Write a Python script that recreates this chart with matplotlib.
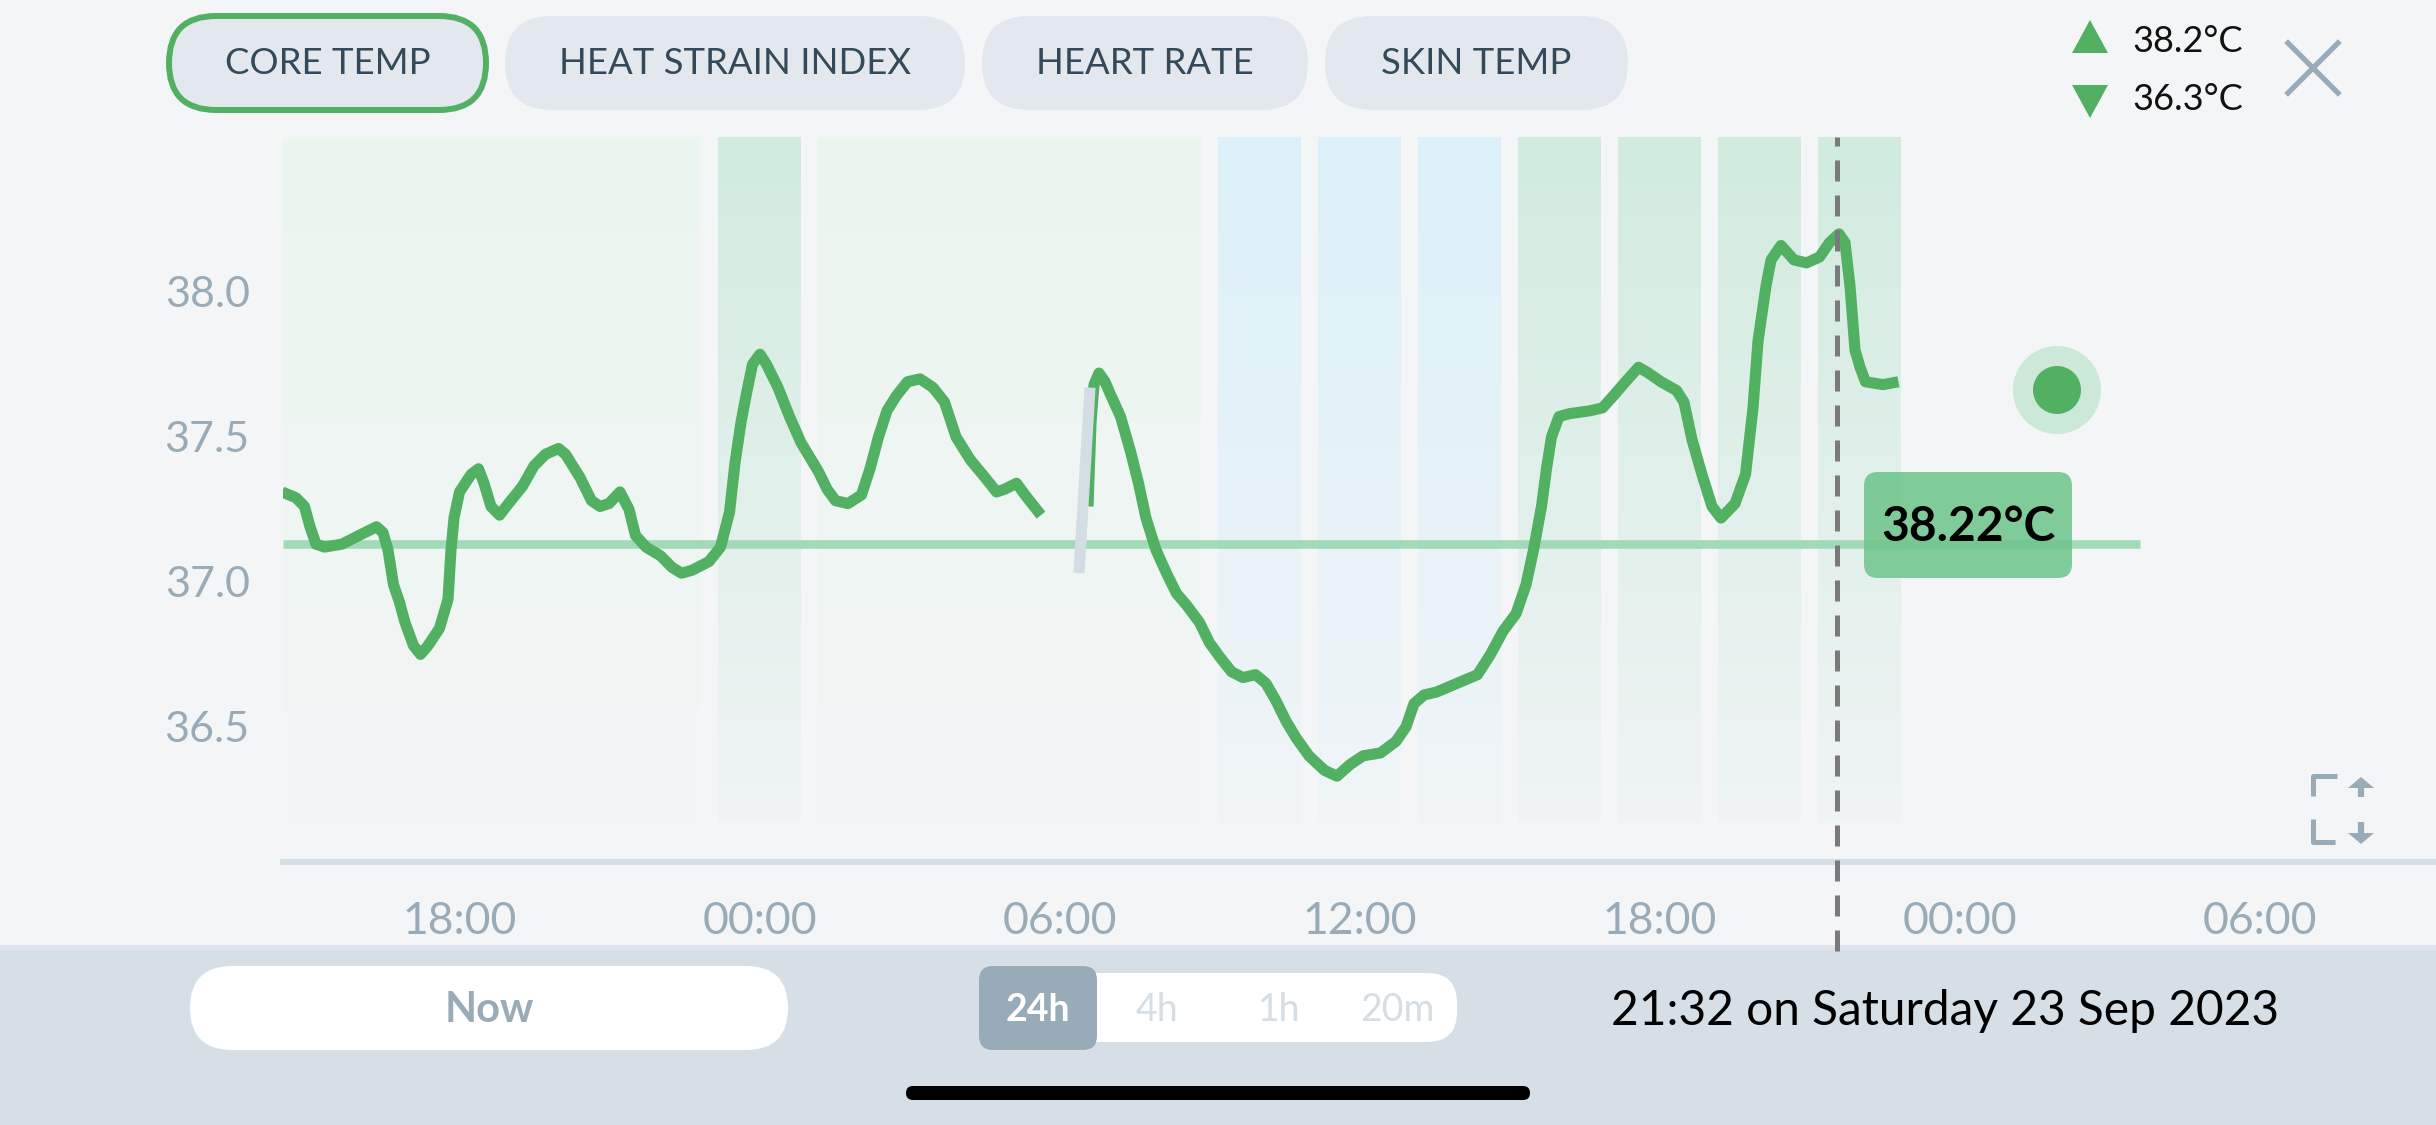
import matplotlib; matplotlib.use("Agg")
import matplotlib.pyplot as plt
import numpy as np
from matplotlib.patches import FancyBboxPatch, Polygon, Circle

plt.rcParams.update({"font.family": ["Lato", "DejaVu Sans"]})

# core temperature trace (hours since Friday 00:00, degC)
hours_1 = [14.44, 14.72, 14.89, 15.0, 15.12, 15.29, 15.64, 15.98, 16.33, 16.46, 16.56, 16.67,
           16.79, 16.9, 17.07, 17.21, 17.36, 17.59, 17.76, 17.82, 17.88, 17.99, 18.22, 18.37,
           18.48, 18.62, 18.79, 18.97, 19.25, 19.48, 19.71, 19.97, 20.11, 20.4, 20.63, 20.8,
           20.98, 21.2, 21.38, 21.51, 21.72, 22.01, 22.24, 22.43, 22.64, 22.98, 23.21, 23.39,
           23.5, 23.62, 23.73, 23.85, 24.0, 24.13, 24.36, 24.59, 24.82, 25.17, 25.34, 25.51,
           25.76, 26.03, 26.2, 26.37, 26.54, 26.72, 26.95, 27.2, 27.46, 27.69, 27.92, 28.21,
           28.5, 28.73, 28.9, 29.13, 29.3, 29.62]
temp_1 = [37.31, 37.29, 37.26, 37.19, 37.13, 37.12, 37.13, 37.16, 37.19, 37.17, 37.11, 36.99,
          36.93, 36.86, 36.78, 36.75, 36.78, 36.84, 36.94, 37.11, 37.22, 37.31, 37.37, 37.39,
          37.34, 37.26, 37.23, 37.27, 37.33, 37.40, 37.44, 37.46, 37.44, 37.36, 37.28, 37.26,
          37.27, 37.31, 37.25, 37.16, 37.12, 37.09, 37.05, 37.03, 37.04, 37.07, 37.12, 37.24,
          37.41, 37.55, 37.65, 37.75, 37.785, 37.75, 37.67, 37.57, 37.48, 37.38, 37.32, 37.28,
          37.27, 37.30, 37.39, 37.50, 37.59, 37.64, 37.69, 37.70, 37.67, 37.62, 37.50, 37.42,
          37.36, 37.31, 37.32, 37.34, 37.30, 37.23]
hours_2 = [30.56, 30.62, 30.68, 30.78, 30.9, 31.0, 31.21, 31.41, 31.57, 31.72, 31.92, 32.13,
           32.33, 32.53, 32.79,
           32.99, 33.2, 33.43, 33.66, 33.91, 34.12, 34.32, 34.52, 34.73, 34.98, 35.29, 35.54,
           35.8, 36.06, 36.41, 36.72, 36.92, 37.08, 37.28, 37.53, 37.94, 38.35, 38.61, 38.86,
           39.12, 39.32, 39.47, 39.63, 39.73, 39.83, 39.98, 40.19, 40.6, 40.85, 41.06, 41.31,
           41.57, 41.77, 42.02, 42.33, 42.48, 42.64, 42.84, 43.04, 43.22, 43.5, 43.71, 43.86,
           43.96, 44.12, 44.22, 44.42, 44.68, 44.93, 45.19, 45.39, 45.58, 45.7, 45.8, 45.9,
           46.0, 46.11, 46.46, 46.77]
temp_2 = [37.26, 37.55, 37.68, 37.72, 37.69, 37.65, 37.57, 37.45, 37.34, 37.22, 37.11, 37.03,
          36.96, 36.92, 36.86,
          36.79, 36.74, 36.69, 36.67, 36.68, 36.65, 36.59, 36.52, 36.46, 36.40, 36.35, 36.33,
          36.37, 36.40, 36.41, 36.45, 36.50, 36.58, 36.61, 36.62, 36.65, 36.68, 36.75, 36.83,
          36.89, 36.99, 37.11, 37.26, 37.39, 37.50, 37.57, 37.58, 37.59, 37.60, 37.64, 37.69,
          37.74, 37.72, 37.69, 37.66, 37.62, 37.49, 37.37, 37.26, 37.22, 37.27, 37.37, 37.60,
          37.83, 38.02, 38.11, 38.16, 38.11, 38.10, 38.12, 38.17, 38.20, 38.17, 38.02, 37.80,
          37.74, 37.69, 37.68, 37.69]
gap_hours = [30.38, 30.6]
gap_temp = [37.03, 37.67]

# background zones (2 h blocks)
band_start = [13, 23, 25, 33, 35, 37, 39, 41, 43, 45]
band_end = [23, 25, 33, 35, 37, 39, 41, 43, 45, 47]
band_kind = ["faint", "green", "faint", "blue", "blue", "blue", "green", "green", "green", "green"]
band_rgb = {"faint": (0.925, 0.965, 0.94), "green": (0.82, 0.925, 0.875), "blue": (0.86, 0.945, 0.98)}

baseline = 37.13
cursor_hour = 45.53
cursor_label = "38.22°C"
y_ticks = [36.5, 37.0, 37.5, 38.0]
x_ticks = [18, 24, 30, 36, 42, 48, 54]
x_labels = ["18:00", "00:00", "06:00", "12:00", "18:00", "00:00", "06:00"]
tabs = ["CORE TEMP", "HEAT STRAIN INDEX", "HEART RATE", "SKIN TEMP"]
tab_x = [(169, 486), (505, 965), (982, 1308), (1325, 1628)]
ranges = ["24h", "4h", "1h", "20m"]
range_x = [1038, 1157, 1279, 1397]

BG = "#f3f5f7"
GREEN = "#52b062"
GREY = "#9aabb8"
W, H = 2436, 1125

fig = plt.figure(figsize=(W / 100, H / 100), dpi=100, facecolor=BG)
ui = fig.add_axes([0, 0, 1, 1], zorder=0)
ui.set_xlim(0, W); ui.set_ylim(H, 0); ui.axis("off")
top = fig.add_axes([0, 0, 1, 1], zorder=3)
top.set_xlim(0, W); top.set_ylim(H, 0); top.axis("off"); top.patch.set_alpha(0)

# chart
ax = fig.add_axes([283 / W, (H - 862) / H, (W - 283) / W, (862 - 137) / H], zorder=1)
ax.patch.set_alpha(0)
y0, y1 = 36.034, 38.534
for s, e, k in zip(band_start, band_end, band_kind):
    grad = np.zeros((100, 1, 4))
    grad[:, 0, :3] = band_rgb[k]
    grad[:, 0, 3] = np.linspace(1, 0.1, 100)
    ax.imshow(grad, extent=[s + 0.15, e - 0.2, 36.17, y1], aspect="auto",
              interpolation="bilinear", zorder=0)
ax.axhline(y0, color="#d3dee5", lw=4.5, clip_on=False, zorder=1)
ax.plot([14.46, 51.6], [baseline, baseline], color="#a2dab8", lw=6.2, zorder=2,
        solid_capstyle="butt")
for hx, ty in [(hours_1, temp_1), (hours_2, temp_2)]:
    ax.plot(hx, ty, color=GREEN, lw=8, zorder=4, solid_joinstyle="round",
            solid_capstyle="butt")
ax.plot(gap_hours, gap_temp, color="#d3dde4", lw=8, zorder=5, solid_capstyle="butt")
ax.axvline(cursor_hour, ymin=-0.1228, ymax=1, color="#7a7a7a", lw=3.6,
           ls=(0, (4.2, 2.8)), clip_on=False, zorder=6)
ax.set_xlim(14.46, 57.52); ax.set_ylim(y0, y1)
for sp in ax.spines.values():
    sp.set_visible(False)
ax.set_yticks(y_ticks); ax.set_yticklabels([f"{v:.1f}" for v in y_ticks])
ax.set_xticks(x_ticks); ax.set_xticklabels(x_labels)
ax.tick_params(length=0, colors=GREY, labelsize=31)
ax.tick_params(axis="x", labelsize=32)
ax.tick_params(axis="y", pad=24)
ax.tick_params(axis="x", pad=28)

# value label box and live dot
top.add_patch(FancyBboxPatch((1864, 472), 208, 106, boxstyle="round,pad=0,rounding_size=14",
                             fc="#6cc48a", ec="none", alpha=0.85))
top.text(1968, 527, cursor_label, fontsize=34.5, fontweight="bold", ha="center", va="center",
         color="#000000")
top.add_patch(Circle((2057, 390), 44, fc="#cce8d8", ec="none"))
top.add_patch(Circle((2057, 390), 24, fc=GREEN, ec="none"))

# top tabs
for i, (lab, (xa, xb)) in enumerate(zip(tabs, tab_x)):
    ui.add_patch(FancyBboxPatch((xa, 16), xb - xa, 94, boxstyle="round,pad=0,rounding_size=47",
                                fc="#e3e8ee", ec=GREEN if i == 0 else "none", lw=4.3))
    ui.text((xa + xb) / 2, 64, lab, fontsize=26.3, ha="center", va="center", color="#34495a")

# min/max legend + close
top.add_patch(Polygon([[2072, 53], [2108, 53], [2090, 20]], fc=GREEN, ec="none"))
top.add_patch(Polygon([[2072, 85], [2108, 85], [2090, 118]], fc=GREEN, ec="none"))
top.text(2132, 41, "38.2°C", fontsize=26, va="center", ha="left", color="#111111")
top.text(2132, 99, "36.3°C", fontsize=26, va="center", ha="left", color="#111111")
top.plot([2288, 2338], [43, 93], color=GREY, lw=3.8)
top.plot([2288, 2338], [93, 43], color=GREY, lw=3.8)

# expand icon
top.plot([2313, 2313, 2337], [796, 776, 776], color=GREY, lw=3.6, solid_capstyle="butt")
top.plot([2313, 2313, 2335], [819, 842, 842], color=GREY, lw=3.6, solid_capstyle="butt")
top.add_patch(Polygon([[2348, 788], [2374, 788], [2361, 777]], fc=GREY, ec="none"))
top.add_patch(Polygon([[2348, 833], [2374, 833], [2361, 844]], fc=GREY, ec="none"))
top.plot([2361, 2361], [786, 797], color=GREY, lw=4.5, solid_capstyle="butt")
top.plot([2361, 2361], [822, 835], color=GREY, lw=4.5, solid_capstyle="butt")

# bottom bar
ui.add_patch(plt.Rectangle((0, 951), W, H - 951, fc="#d5dfe5", ec="none", zorder=2))
for k in range(6):
    ui.add_patch(plt.Rectangle((0, 945 + k), W, 1, fc="#dfe5ea", ec="none", zorder=2))
ui.add_patch(FancyBboxPatch((190, 966), 598, 84, boxstyle="round,pad=0,rounding_size=42",
                            fc="white", ec="none", zorder=3))
ui.text(489, 1010, "Now", fontsize=30, fontweight="bold", ha="center", va="center",
        color=GREY, zorder=4)
ui.add_patch(FancyBboxPatch((979, 973), 478, 69, boxstyle="round,pad=0,rounding_size=30",
                            fc="white", ec="none", zorder=3))
ui.add_patch(FancyBboxPatch((979, 966), 118, 84, boxstyle="round,pad=0,rounding_size=14",
                            fc="#97abb8", ec="none", zorder=3))
for i, (lab, cx) in enumerate(zip(ranges, range_x)):
    ui.text(cx, 1010, lab, fontsize=27, fontweight="bold" if i == 0 else "normal",
            ha="center", va="center", color="white" if i == 0 else "#d5dee5", zorder=4)
ui.text(1611, 1011, "21:32 on Saturday 23 Sep 2023", fontsize=34.5, ha="left", va="center",
        color="#000000", zorder=4)
ui.add_patch(FancyBboxPatch((906, 1086), 624, 14, boxstyle="round,pad=0,rounding_size=7",
                            fc="black", ec="none", zorder=4))

fig.savefig("out.png", dpi=100, facecolor=BG)
